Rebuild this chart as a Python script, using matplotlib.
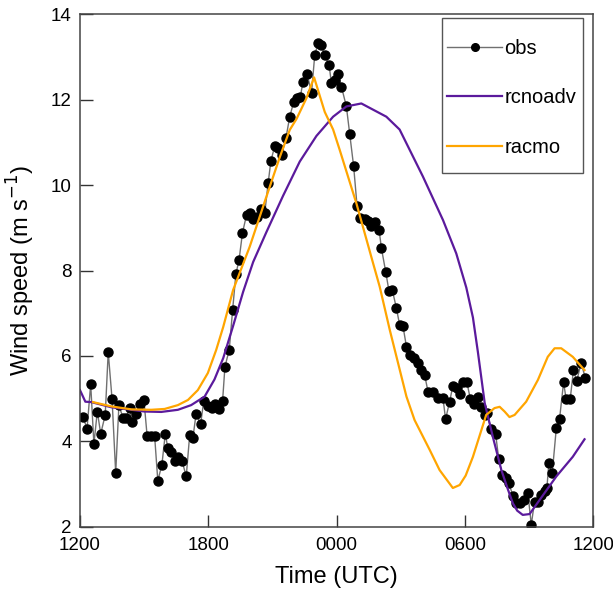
import matplotlib
matplotlib.use('Agg')
import matplotlib.pyplot as plt
from matplotlib.patches import Rectangle

plt.rcParams['font.family'] = ['Liberation Sans', 'DejaVu Sans']

# hours after 1200 UTC
obs_time = [0.14, 0.33, 0.50, 0.65, 0.81, 0.97, 1.18, 1.32, 1.50, 1.67,
            1.82, 2.01, 2.16, 2.32, 2.44, 2.63, 2.79, 2.99, 3.14, 3.30,
            3.49, 3.64, 3.83, 3.99, 4.11, 4.27, 4.43, 4.58, 4.77, 4.97,
            5.13, 5.28, 5.43, 5.64, 5.79, 5.98, 6.17, 6.32, 6.51, 6.67,
            6.78, 6.98, 7.14, 7.29, 7.44, 7.60, 7.79, 7.94, 8.10, 8.26,
            8.46, 8.64, 8.80, 8.93, 9.11, 9.27, 9.43, 9.63, 9.81, 10.00,
            10.13, 10.31, 10.43, 10.62, 10.83, 10.98, 11.14, 11.29, 11.45, 11.65,
            11.76, 11.92, 12.07, 12.23, 12.46, 12.62, 12.80, 12.96, 13.12, 13.32,
            13.47, 13.63, 13.79, 13.99, 14.10, 14.30, 14.45, 14.61, 14.80, 14.95,
            15.11, 15.27, 15.42, 15.61, 15.81, 15.97, 16.12, 16.28, 16.50, 16.74,
            16.98, 17.10, 17.29, 17.44, 17.63, 17.79, 17.91, 18.10, 18.26, 18.41,
            18.61, 18.77, 18.93, 19.03, 19.24, 19.44, 19.59, 19.75, 19.91, 20.06,
            20.25, 20.41, 20.56, 20.75, 20.95, 21.11, 21.26, 21.42, 21.57, 21.73,
            21.84, 21.93, 22.09, 22.28, 22.43, 22.62, 22.74, 22.93, 23.08, 23.24,
            23.44, 23.64]
obs_speed = [4.57, 4.30, 5.34, 3.94, 4.70, 4.18, 4.62, 6.09, 4.99, 3.26,
             4.85, 4.55, 4.55, 4.78, 4.46, 4.65, 4.88, 4.97, 4.13, 4.13,
             4.13, 3.08, 3.45, 4.18, 3.84, 3.76, 3.55, 3.64, 3.55, 3.18,
             4.15, 4.07, 4.65, 4.40, 4.95, 4.83, 4.78, 4.88, 4.75, 4.95,
             5.75, 6.14, 7.08, 7.91, 8.25, 8.88, 9.30, 9.35, 9.20, 9.26,
             9.45, 9.34, 10.04, 10.57, 10.91, 10.86, 10.70, 11.09, 11.60, 11.95,
             12.03, 12.07, 12.42, 12.61, 12.16, 13.04, 13.33, 13.27, 13.04, 12.82,
             12.38, 12.46, 12.61, 12.30, 11.84, 11.19, 10.44, 9.51, 9.22, 9.20,
             9.17, 9.04, 9.14, 8.95, 8.52, 7.97, 7.53, 7.54, 7.12, 6.73,
             6.69, 6.22, 6.02, 5.95, 5.84, 5.67, 5.56, 5.16, 5.16, 5.01,
             5.01, 4.52, 4.93, 5.30, 5.24, 5.11, 5.40, 5.38, 4.99, 4.88,
             5.05, 4.81, 4.62, 4.66, 4.29, 4.18, 3.58, 3.22, 3.14, 3.02,
             2.73, 2.55, 2.57, 2.63, 2.79, 2.05, 2.59, 2.59, 2.75, 2.83,
             2.91, 3.49, 3.26, 4.31, 4.52, 5.38, 4.99, 4.99, 5.66, 5.42,
             5.84, 5.48]

rcnoadv_time = [0.0, 0.25, 0.53, 1.46, 2.40, 3.02, 3.80, 4.58, 5.20, 5.83,
                6.29, 6.70, 7.16, 7.63, 8.10, 8.72, 9.50, 10.28, 11.06, 11.84,
                12.46, 13.16, 14.33, 14.95, 16.04, 16.98, 17.60, 18.07, 18.38, 18.61,
                18.93, 19.31, 19.71, 20.00, 20.25, 20.45, 20.71, 21.03, 21.50, 22.28,
                23.05, 23.60]
rcnoadv_speed = [5.2, 4.93, 4.92, 4.80, 4.74, 4.70, 4.69, 4.74, 4.85, 5.05,
                 5.45, 5.95, 6.7, 7.5, 8.2, 8.9, 9.75, 10.55, 11.15, 11.6,
                 11.84, 11.91, 11.6, 11.3, 10.2, 9.18, 8.4, 7.6, 6.9, 6.1,
                 4.9, 4.11, 3.33, 2.9, 2.55, 2.38, 2.28, 2.30, 2.63, 3.18,
                 3.64, 4.05]

racmo_time = [0.61, 1.46, 2.40, 3.33, 3.96, 4.58, 5.05, 5.51, 5.98, 6.37,
              6.70, 7.16, 7.94, 8.72, 9.35, 9.81, 10.13, 10.59, 10.95, 11.45,
              11.84, 12.15, 12.93, 13.71, 14.02, 14.49, 15.27, 15.65, 16.36, 16.82,
              17.44, 17.76, 18.04, 18.38, 19.00, 19.39, 19.63, 19.86, 20.09, 20.33,
              20.87, 21.42, 21.88, 22.20, 22.51, 23.05, 23.60]
racmo_speed = [4.92, 4.82, 4.75, 4.74, 4.76, 4.85, 4.97, 5.2, 5.6, 6.14,
               6.68, 7.54, 8.56, 9.73, 10.66, 11.29, 11.55, 12.03, 12.52, 11.71,
               11.3, 10.82, 9.57, 8.17, 7.62, 6.61, 5.05, 4.5, 3.80, 3.33,
               2.91, 2.98, 3.2, 3.64, 4.62, 4.78, 4.81, 4.70, 4.57, 4.62,
               4.93, 5.44, 5.98, 6.18, 6.18, 5.98, 5.67]

tick_hours = [0, 6, 12, 18, 24]
tick_labels = ['1200', '1800', '0000', '0600', '1200']

fig = plt.figure(figsize=(6.13, 5.90), dpi=100)
ax = fig.add_axes([0.1305, 0.107, 0.837, 0.869])

ax.plot(obs_time, obs_speed, color='#707070', linewidth=1.0, marker='o',
        markersize=6.5, markerfacecolor='black', markeredgecolor='black', label='obs')
ax.plot(rcnoadv_time, rcnoadv_speed, color='#5b1a9c', linewidth=1.6, label='rcnoadv')
ax.plot(racmo_time, racmo_speed, color='#ffa500', linewidth=1.6, label='racmo')

ax.set_xlim(0, 24)
ax.set_ylim(2, 14)
ax.set_xticks(tick_hours)
ax.set_xticklabels(tick_labels)
ax.set_yticks([2, 4, 6, 8, 10, 12, 14])
ax.tick_params(direction='in', length=9, width=1, labelsize=13.5, pad=7,
               color='#333333')
ax.tick_params(axis='y', pad=6)
for s in ax.spines.values():
    s.set_color('#444444')
    s.set_linewidth(1.1)

ax.set_xlabel('Time (UTC)', fontsize=17, labelpad=9)
ax.set_ylabel('Wind speed (m s$^{-1}$)', fontsize=17, labelpad=10)

# legend without its own frame, boxed by a separate rectangle
leg = ax.legend(loc='upper left', bbox_to_anchor=(0.7154, 0.951), fontsize=14.5,
                frameon=False, handlelength=2.74, handletextpad=0.1,
                labelspacing=1.5, borderpad=0.0, borderaxespad=0.0, numpoints=1)
leg.legend_handles[0].set_markersize(5.5)
ax.add_patch(Rectangle((0.7057, 0.690), 0.2748, 0.302, transform=ax.transAxes,
                       fill=False, edgecolor='#555555', linewidth=1.0, zorder=5))

fig.savefig('out.png', dpi=100, facecolor='white')
